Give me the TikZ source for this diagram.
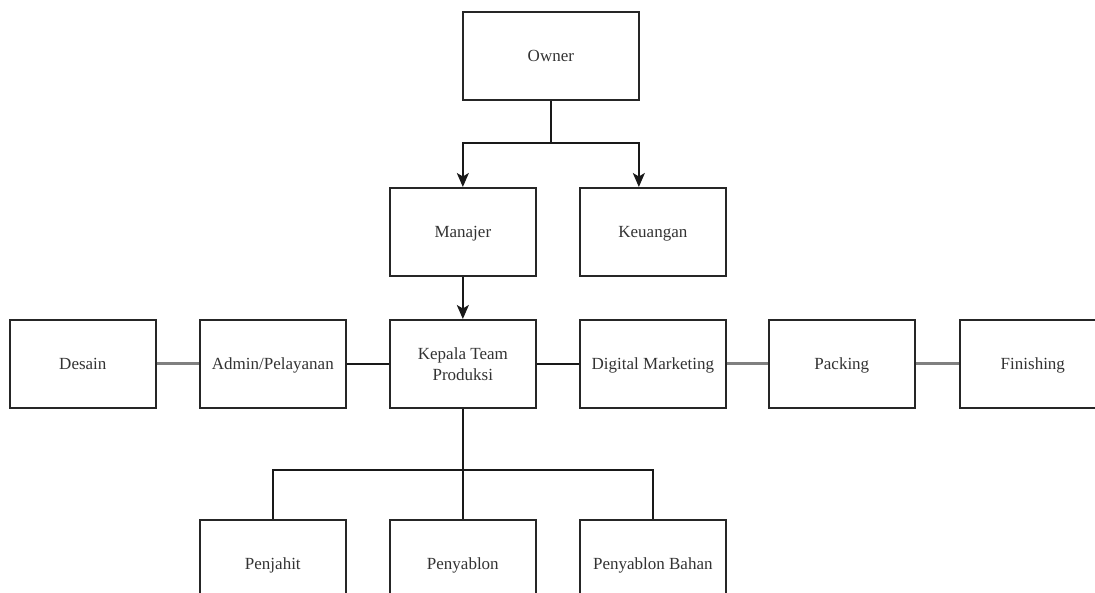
\documentclass[tikz,border=0pt]{standalone}
\usepackage{fontspec}
\setmainfont{Liberation Serif}
\usetikzlibrary{arrows.meta}
\begin{document}
\begin{tikzpicture}[x=1pt,y=-1pt,
  box/.style={draw=black!85, line width=1.7pt, minimum width=146pt, minimum height=88pt, inner sep=0pt,
    font=\fontsize{17}{21}\selectfont, text=black!80, align=center, anchor=north west},
  one/.style={text height=13.5pt, text depth=2.5pt},
  conn/.style={line width=1.7pt, draw=black!90},
  gconn/.style={line width=3pt, draw=black!50},
  arr/.style={conn, -{Stealth[length=14pt,width=12pt,inset=3.5pt]}}]
\useasboundingbox (0,0) rectangle (1095,592);
\node[box, one, minimum width=176pt] (owner) at (462,11) {Owner};
\node[box, one] (manajer) at (389,187) {Manajer};
\node[box, one] (keuangan) at (579,187) {Keuangan};
\node[box, one] (desain) at (9,319) {Desain};
\node[box, one] (admin) at (199,319) {Admin/Pelayanan};
\node[box] (kepala) at (389,319) {Kepala Team\\Produksi};
\node[box, one] (digital) at (579,319) {Digital Marketing};
\node[box, one] (packing) at (768,319) {Packing};
\node[box, one] (finishing) at (959,319) {Finishing};
\node[box, one] (penjahit) at (199,519) {Penjahit};
\node[box, one] (penyablon) at (389,519) {Penyablon};
\node[box, one] (bahan) at (579,519) {Penyablon Bahan};
\coordinate (j1) at (owner.south |- 0,143);
\coordinate (j2) at (kepala.south |- 0,470);
\draw[conn] (owner.south) -- (j1);
\draw[arr] (j1) -| (manajer.north);
\draw[arr] (j1) -| ([xshift=-14pt]keuangan.north);
\draw[arr] (manajer.south) -- (kepala.north);
\draw[gconn] (desain.east) -- (admin.west);
\draw[conn] (admin.east) -- (kepala.west);
\draw[conn] (kepala.east) -- (digital.west);
\draw[gconn] (digital.east) -- (packing.west);
\draw[gconn] (packing.east) -- (finishing.west);
\draw[conn] (kepala.south) -- (j2);
\draw[conn] (j2) -| (penjahit.north);
\draw[conn] (j2) -- (penyablon.north);
\draw[conn] (j2) -| (bahan.north);
\end{tikzpicture}
\end{document}
